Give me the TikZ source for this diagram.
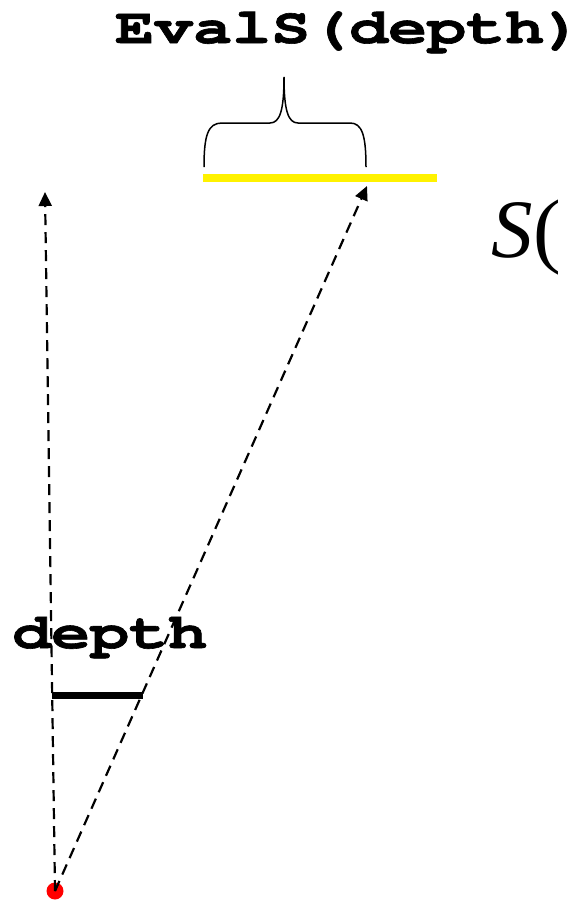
\documentclass[tikz,border=0pt]{standalone}
\usepackage{fontspec}
\usepackage{graphicx}
\newfontfamily\monofam{TeX Gyre Cursor}[FakeBold=1.2]
\newfontfamily\seriffam{Liberation Serif}
\usetikzlibrary{arrows.meta}
\tikzset{
  dasharrow/.style={line width=2.2pt, dash pattern=on 11pt off 7pt, -{Triangle[length=14pt,width=13pt]}},
  codelabel/.style={inner sep=0pt, anchor=base west, font=\monofam\bfseries\fontsize{50}{50}\selectfont},
  mathlabel/.style={inner sep=0pt, anchor=base west, font=\seriffam\fontsize{83}{83}\selectfont},
}
\begin{document}
\begin{tikzpicture}[x=1pt,y=-1pt]
\useasboundingbox (0,0) rectangle (571,900);
% origin dot
\node[circle, fill=red, inner sep=0pt, minimum size=17pt] (o) at (55,891) {};
\coordinate (t1) at (45,192);
\coordinate (t2) at (367,186);
\draw[dasharrow] (o.center) -- (t1);
\draw[dasharrow] (o.center) -- (t2);
% yellow segment
\coordinate (y1) at (203,178);
\coordinate (y2) at (437,178);
\draw[yellow, line width=8pt] (y1) -- (y2);
% depth bar
\coordinate (d1) at (52,695);
\coordinate (d2) at (143,695);
\draw[black, line width=7pt] (d1) -- (d2);
% brace
\draw[line width=1.5pt] (204,167) .. controls (204,135) and (208,123) .. (222,123) -- (270,123)
  .. controls (280,123) and (284,110) .. (284,77)
  .. controls (284,110) and (288,123) .. (298,123) -- (350,123)
  .. controls (362,123) and (366,135) .. (366,167);
% labels
\node[codelabel] (evals) at (115,43) {\scalebox{1.3}[1]{EvalS(depth)}};
\node[codelabel] (depth) at (12,648) {\scalebox{1.3}[1]{depth}};
\node[mathlabel] (s) at (491,257) {{\itshape S}\kern1pt(};
\end{tikzpicture}
\end{document}
